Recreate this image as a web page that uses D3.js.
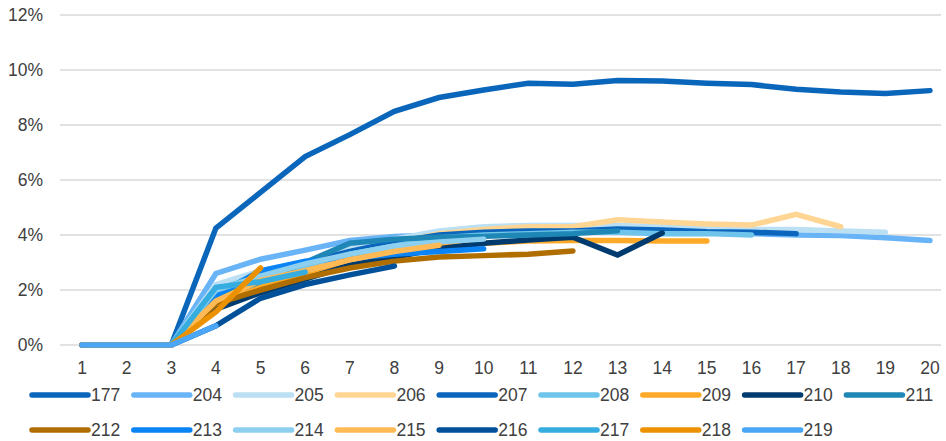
<!DOCTYPE html>
<html>
<head>
<meta charset="utf-8">
<script src="https://cdn.jsdelivr.net/npm/d3@7"></script>
<style>
  body { margin: 0; background: #fff; }
  text { font-family: "Liberation Sans", Arial, sans-serif; fill: #404040; }
</style>
</head>
<body>
<div id="chart"></div>
<script>
// x categories (periods)
const periods = d3.range(1, 21);
// y axis ticks (percent)
const yTicks = [0, 2, 4, 6, 8, 10, 12];

// series names, colours and values (percent); shorter series stop early
const seriesNames = ["177", "204", "205", "206", "207", "208", "209", "210", "211",
                     "212", "213", "214", "215", "216", "217", "218", "219"];
const seriesColors = ["#0A66BA", "#69B4F7", "#BBDFF3", "#FFD593", "#0B65BD", "#6EC4EA",
                      "#FFA929", "#003B6F", "#1E87B6", "#B06E00", "#0A84F5", "#8CCFEE",
                      "#FFBA55", "#00519A", "#36ADE0", "#EC9200", "#4BA6F5"];
const v177 = [0, 0, 0, 4.25, 5.55, 6.85, 7.65, 8.5, 9.0, 9.27, 9.52, 9.48, 9.62, 9.6, 9.52, 9.47, 9.3, 9.2, 9.15, 9.25];
const v204 = [0, 0, 0, 2.6, 3.12, 3.45, 3.8, 3.95, 4.0, 4.05, 4.1, 4.1, 4.15, 4.1, 4.1, 4.05, 4.0, 3.98, 3.9, 3.8];
const v205 = [0, 0, 0, 2.2, 2.7, 3.0, 3.5, 3.85, 4.15, 4.3, 4.35, 4.35, 4.35, 4.3, 4.25, 4.2, 4.2, 4.15, 4.1];
const v206 = [0, 0, 0, 1.9, 2.5, 2.9, 3.3, 3.7, 4.05, 4.2, 4.3, 4.3, 4.55, 4.47, 4.4, 4.36, 4.75, 4.3];
const v207 = [0, 0, 0, 2.0, 2.5, 3.0, 3.4, 3.75, 4.0, 4.1, 4.15, 4.15, 4.22, 4.18, 4.12, 4.1, 4.05];
const v208 = [0, 0, 0, 1.8, 2.4, 2.8, 3.3, 3.6, 3.9, 4.0, 4.05, 4.1, 4.1, 4.05, 4.05, 4.0];
const v209 = [0, 0, 0, 1.5, 2.1, 2.6, 3.1, 3.4, 3.6, 3.7, 3.78, 3.8, 3.8, 3.78, 3.78];
const v210 = [0, 0, 0, 1.3, 1.9, 2.4, 2.9, 3.2, 3.5, 3.7, 3.82, 3.92, 3.27, 4.07];
const v211 = [0, 0, 0, 1.7, 2.3, 3.0, 3.7, 3.85, 3.92, 3.95, 4.0, 4.05, 4.15];
const v212 = [0, 0, 0, 1.5, 2.0, 2.45, 2.8, 3.05, 3.2, 3.25, 3.3, 3.42];
const v213 = [0, 0, 0, 1.8, 2.7, 3.05, 3.15, 3.3, 3.4, 3.5];
const v214 = [0, 0, 0, 2.0, 2.5, 2.95, 3.3, 3.6, 3.75, 3.85];
const v215 = [0, 0, 0, 1.6, 2.35, 2.7, 3.1, 3.4, 3.63];
const v216 = [0, 0, 0, 0.7, 1.7, 2.2, 2.55, 2.87];
const v217 = [0, 0, 0, 2.1, 2.3, 2.65];
const v218 = [0, 0, 0, 1.2, 2.8];
const v219 = [0, 0, 0, 0.7];
const seriesValues = [v177, v204, v205, v206, v207, v208, v209, v210, v211,
                      v212, v213, v214, v215, v216, v217, v218, v219];

function init() {
    const width = 946;
    const height = 441;

    const svg = d3.select("#chart")
        .append("svg")
        .attr("width", width)
        .attr("height", height);

    const x = d3.scalePoint()
        .domain(periods)
        .range([82, 930]);

    const y = d3.scaleLinear()
        .domain([0, 12])
        .range([345, 15]);

    // horizontal gridlines
    svg.append("g")
        .selectAll("line")
        .data(yTicks)
        .enter().append("line")
        .attr("x1", 60)
        .attr("x2", 941)
        .attr("y1", d => y(d))
        .attr("y2", d => y(d))
        .attr("stroke", "#d9d9d9")
        .attr("stroke-width", 1.3);

    // y tick labels
    svg.append("g")
        .selectAll("text")
        .data(yTicks)
        .enter().append("text")
        .attr("x", 43)
        .attr("y", d => y(d))
        .attr("dy", "0.35em")
        .attr("text-anchor", "end")
        .style("font-size", "17.5px")
        .text(d => d + "%");

    // x tick labels
    svg.append("g")
        .selectAll("text")
        .data(periods)
        .enter().append("text")
        .attr("x", d => x(d))
        .attr("y", 368)
        .attr("dy", "0.35em")
        .attr("text-anchor", "middle")
        .style("font-size", "17.5px")
        .text(d => d);

    const line = d3.line()
        .x((d, i) => x(periods[i]))
        .y(d => y(d));

    // lines, first series at the bottom
    svg.append("g")
        .selectAll("path")
        .data(seriesValues)
        .enter().append("path")
        .attr("d", d => line(d))
        .attr("fill", "none")
        .attr("stroke", (d, i) => seriesColors[i])
        .attr("stroke-width", 5.5)
        .attr("stroke-linecap", "round")
        .attr("stroke-linejoin", "miter");

    // legend, two rows of nine
    const legend = svg.append("g")
        .selectAll("g")
        .data(seriesNames)
        .enter().append("g")
        .attr("transform", (d, i) => `translate(${32 + (i % 9) * 101.8}, ${i < 9 ? 395 : 430})`);

    legend.append("line")
        .attr("x1", 0)
        .attr("x2", 56)
        .attr("stroke", (d, i) => seriesColors[i])
        .attr("stroke-width", 5.5)
        .attr("stroke-linecap", "round");

    legend.append("text")
        .attr("x", 59)
        .attr("dy", "0.35em")
        .style("font-size", "17.5px")
        .text(d => d);
}
window.onload = init;
</script>
</body>
</html>
